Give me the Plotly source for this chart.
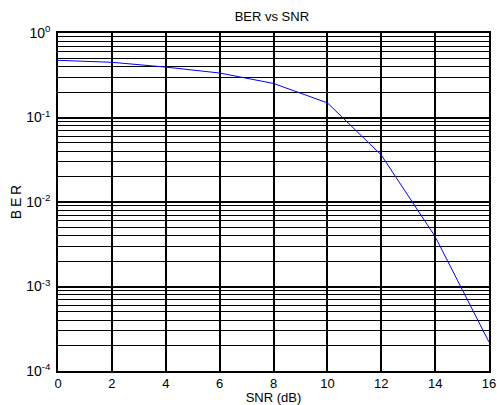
import plotly.graph_objects as go

snr_db = [0, 2, 4, 6, 8, 10, 12, 14, 16]
ber = [0.475, 0.45, 0.395, 0.336, 0.253, 0.149, 0.036, 0.0039, 0.00022]

x_ticks = [0, 2, 4, 6, 8, 10, 12, 14, 16]
y_tickvals = [1e-4, 1e-3, 1e-2, 1e-1, 1]
y_ticktext = ["10<sup>-4</sup>", "10<sup>-3</sup>", "10<sup>-2</sup>", "10<sup>-1</sup>", "10<sup>0</sup>"]

font_family = "Liberation Sans, Arial, sans-serif"

fig = go.Figure()
fig.add_trace(go.Scatter(
    x=snr_db, y=ber, mode="lines",
    line=dict(color="#0000FF", width=1),
    showlegend=False,
))

fig.update_layout(
    width=497, height=405,
    margin=dict(l=58, r=8, t=33, b=34),
    paper_bgcolor="white", plot_bgcolor="white",
    font=dict(family=font_family, color="black", size=14),
    title=dict(text="BER vs SNR", x=0.547, xanchor="center", y=0.96, yanchor="middle",
               font=dict(size=13, family=font_family, color="black")),
)

fig.update_xaxes(
    range=[0, 16], tickvals=x_ticks, ticktext=[str(v) for v in x_ticks],
    showgrid=True, gridcolor="black", gridwidth=1.5,
    showline=True, linecolor="black", linewidth=1.5, mirror=True,
    ticks="", zeroline=False, automargin=False, ticklabeloverflow="allow",
    tickfont=dict(size=13),
    title=dict(text="SNR (dB)", font=dict(size=13), standoff=0),
)

fig.update_yaxes(
    type="log", range=[-4, 0],
    tickvals=y_tickvals, ticktext=y_ticktext,
    showgrid=True, gridcolor="black", gridwidth=1.5,
    minor=dict(dtick="D1", showgrid=True, gridcolor="black", gridwidth=1, ticks=""),
    showline=True, linecolor="black", linewidth=1.5, mirror=True,
    ticks="outside", ticklen=3, tickcolor="rgba(0,0,0,0)", zeroline=False,
    automargin=False,
    tickfont=dict(size=14),
    title=dict(text="B\u2009E\u2009R", font=dict(size=14), standoff=1),
)

# remove the default page margin so the figure fills the window exactly
fig.write_html("out.html",
               config={"displayModeBar": False},
               post_script="document.body.style.margin='0';document.body.style.overflow='hidden';")
